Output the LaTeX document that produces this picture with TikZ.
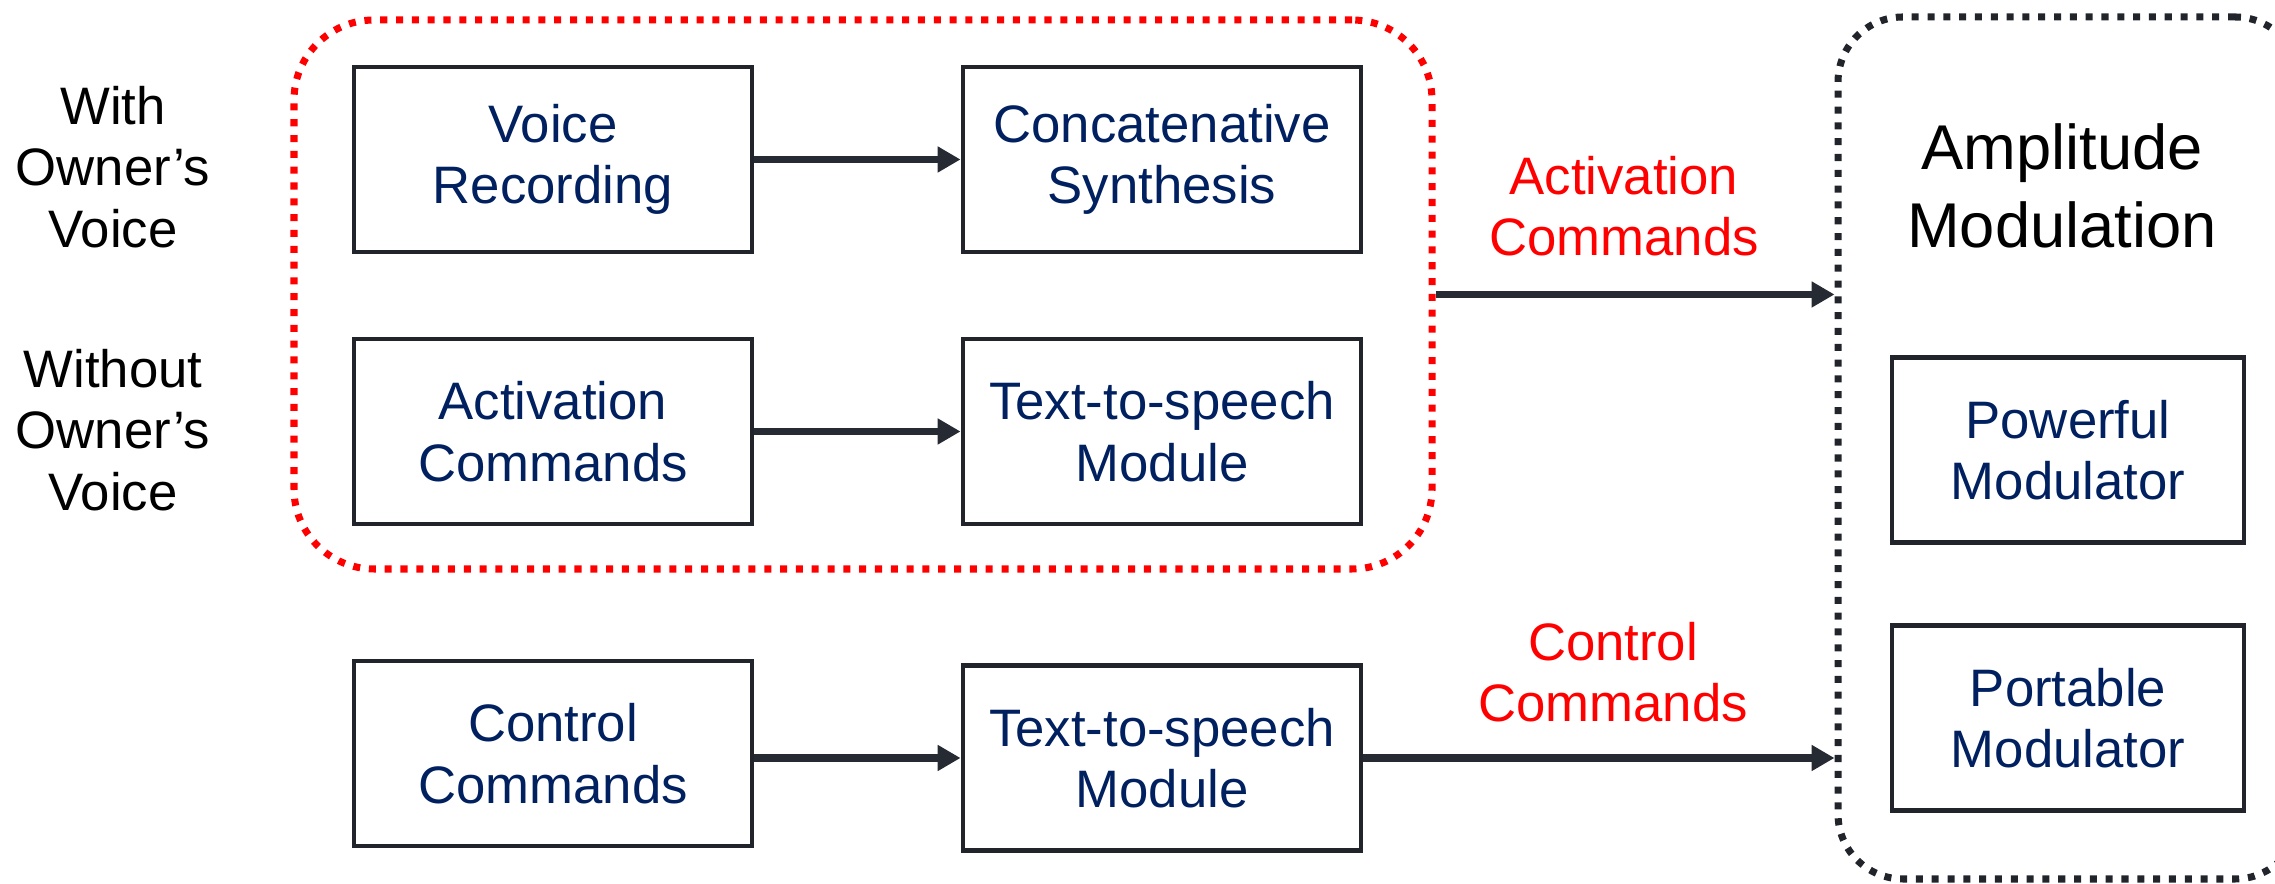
\documentclass[tikz,border=0pt]{standalone}
\usepackage{fontspec}
\setmainfont{Liberation Sans}
\usepackage{tikz}
\usetikzlibrary{arrows.meta}

\definecolor{navy}{RGB}{0,32,96}
\definecolor{boxline}{RGB}{33,37,43}
\definecolor{arrowcol}{RGB}{38,42,50}

\begin{document}
\begin{tikzpicture}[auto,scale=1.0]
	\tikzstyle{box}=[rectangle,draw=boxline,line width=1.4pt,inner sep=0pt,minimum width=3.98cm,minimum height=1.85cm,align=center,text=navy,font=\fontsize{15pt}{17.5pt}\selectfont]
	\tikzstyle{modbox}=[box,minimum width=3.52cm]
	\tikzstyle{side}=[align=center,font=\fontsize{15pt}{17.5pt}\selectfont]
	\tikzstyle{cmd}=[side,text=red]
	\tikzstyle{group}=[rectangle,line width=2pt,dash pattern=on 2pt off 2.5pt,inner sep=0pt]
	\tikzstyle{link}=[line width=2.1pt,draw=arrowcol,-{Triangle[length=6.5pt,width=7pt]}]
	\useasboundingbox (0,0) rectangle (22.75,8.84);
	% grouping frames
	\node (owner) at (8.63,5.895) [group,draw=red,rounded corners=0.8cm,minimum width=11.38cm,minimum height=5.49cm] {};
	\node (amp) at (20.69,4.36) [group,draw=boxline,rounded corners=0.65cm,minimum width=4.62cm,minimum height=8.62cm] {};
	% left hand labels
	\node (with) at (1.13,7.17) [side] {With\\Owner's\\Voice};
	\node (without) at (1.13,4.54) [side] {Without\\Owner's\\Voice};
	% blocks
	\node (voice) at (5.53,7.245) [box] {Voice\\Recording};
	\node (concat) at (11.62,7.245) [box] {Concatenative\\Synthesis};
	\node (activ) at (5.53,4.525) [box] {Activation\\Commands};
	\node (ttsa) at (11.62,4.525) [box] {Text-to-speech\\Module};
	\node (control) at (5.53,1.305) [box] {Control\\Commands};
	\node (ttsb) at (11.62,1.26) [box] {Text-to-speech\\Module};
	\node (powerful) at (20.68,4.34) [modbox] {Powerful\\Modulator};
	\node (portable) at (20.68,1.66) [modbox] {Portable\\Modulator};
	\node (amptitle) at (20.62,6.98) [side,font=\fontsize{18pt}{22pt}\selectfont] {Amplitude\\Modulation};
	% command labels
	\node (actlabel) at (16.24,6.78) [cmd] {Activation\\Commands};
	\node (ctrllabel) at (16.13,2.12) [cmd] {Control\\Commands};
	% connections
	\draw [link] (voice.east) -- (concat.west);
	\draw [link] (activ.east) -- (ttsa.west);
	\draw [link] (control.east |- ttsb.west) -- (ttsb.west);
	\draw [link] (owner.east) -- (amp.west |- owner.east);
	\draw [link] (ttsb.east) -- (amp.west |- ttsb.east);
\end{tikzpicture}
\end{document}
